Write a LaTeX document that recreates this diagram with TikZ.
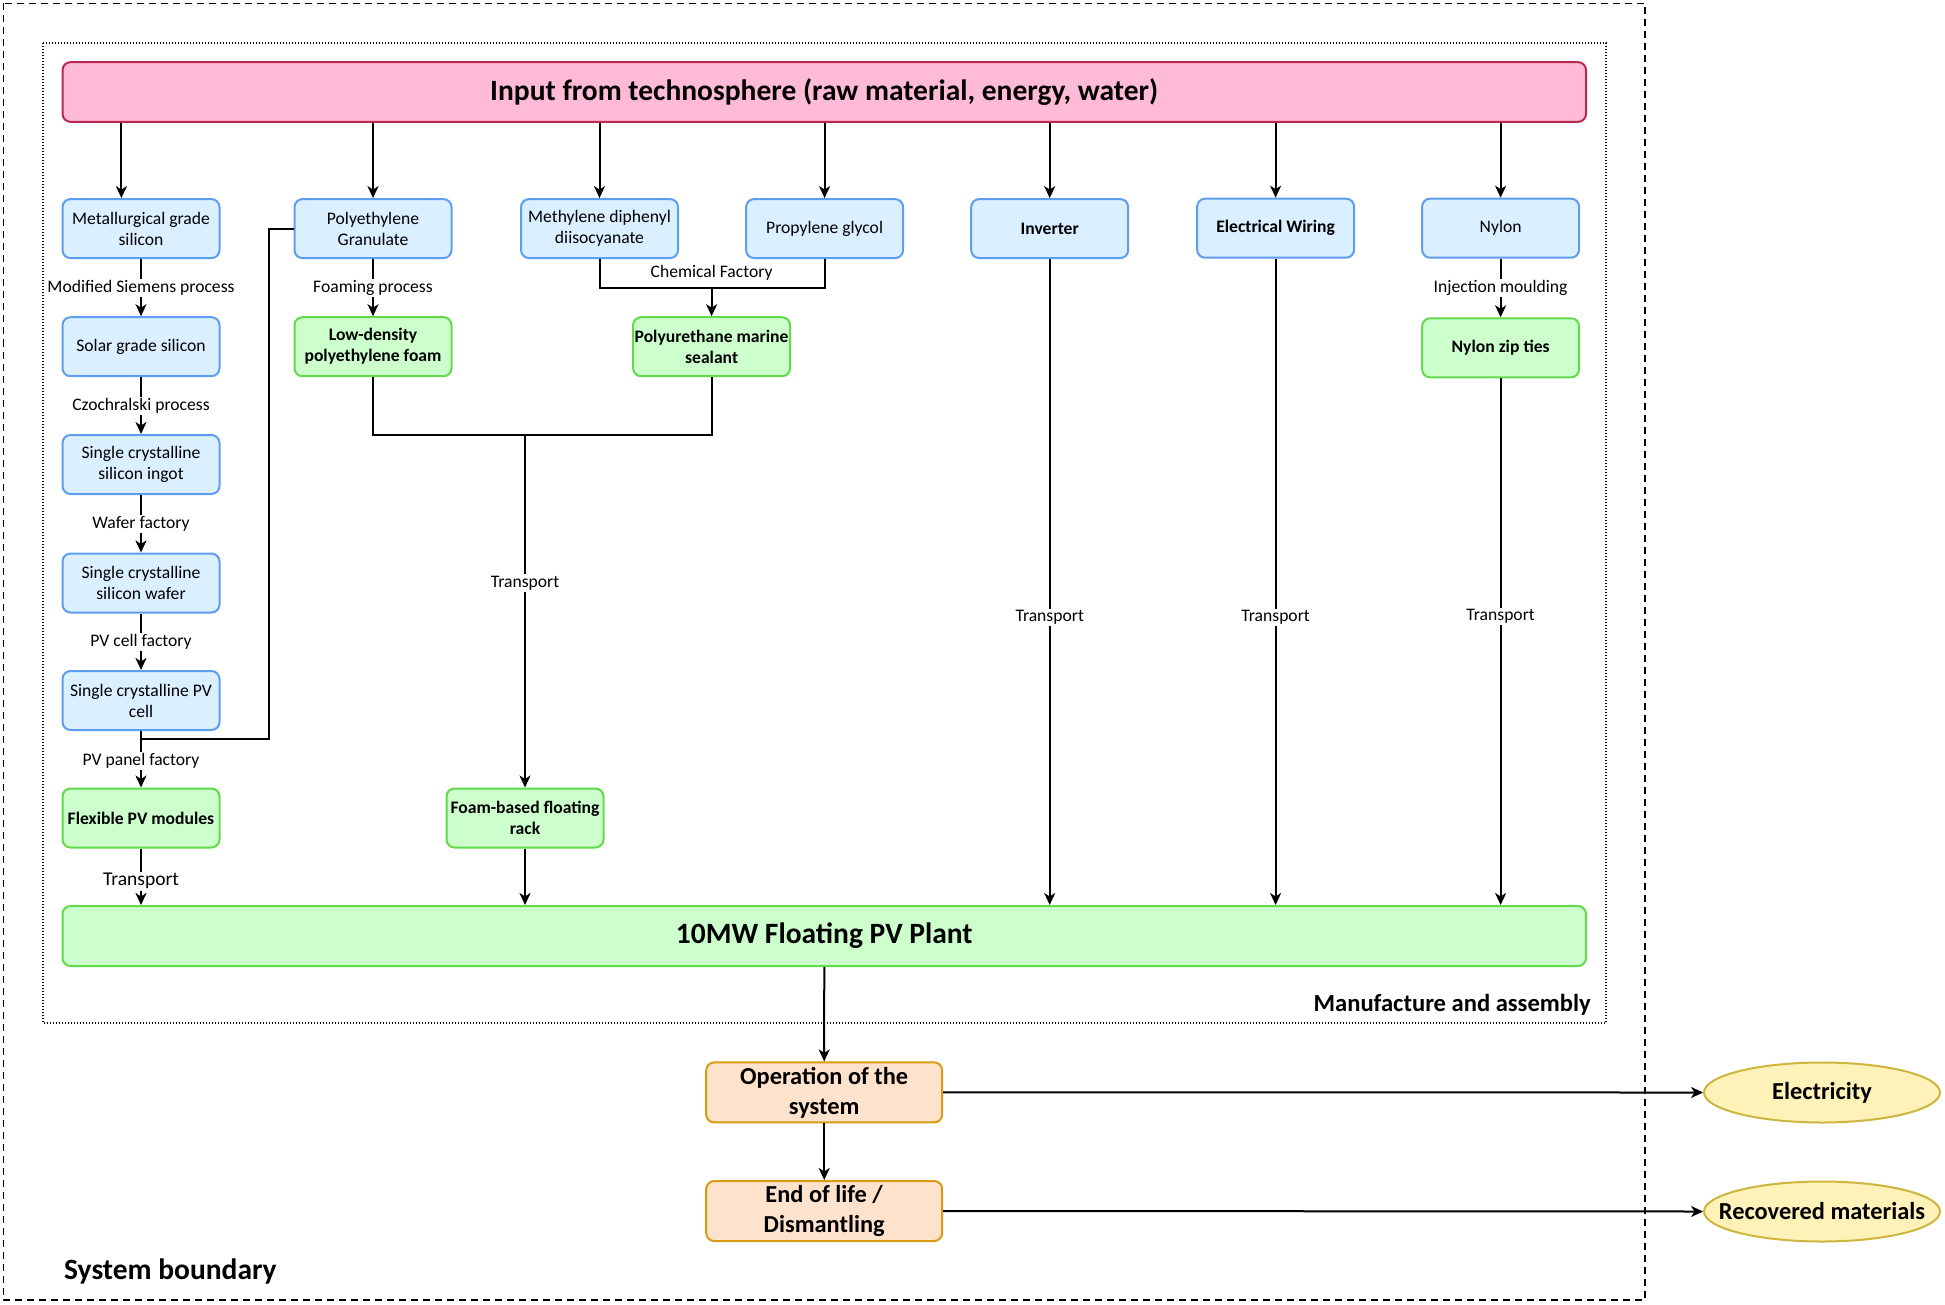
\documentclass[tikz,border=0pt]{standalone}
\usepackage{fontspec}
\setmainfont{Carlito}
\usetikzlibrary{arrows.meta,calc,shapes.geometric}
\definecolor{pinkF}{HTML}{FFBBD5}
\definecolor{pinkD}{HTML}{B8294F}
\definecolor{blueF}{HTML}{DAEFFF}
\definecolor{blueD}{HTML}{5E9EEF}
\definecolor{greenF}{HTML}{CCFFCC}
\definecolor{greenD}{HTML}{62DB4A}
\definecolor{orangeF}{HTML}{FFE2CC}
\definecolor{orangeD}{HTML}{D99B10}
\definecolor{yellowF}{HTML}{FFF2B8}
\definecolor{yellowD}{HTML}{CDB53E}
\begin{document}
\begin{tikzpicture}[x=1pt,y=-1pt,
  box/.style={draw, rounded corners=8pt, line width=2pt, minimum width=157pt, minimum height=59pt, align=center, inner sep=1pt, font=\fontsize{17.6}{21}\selectfont},
  bluebox/.style={box, draw=blueD, fill=blueF},
  bluebold/.style={bluebox, font=\bfseries\fontsize{17.6}{21}\selectfont},
  greenbox/.style={box, draw=greenD, fill=greenF, font=\bfseries\fontsize{17.6}{21}\selectfont},
  orangebox/.style={box, draw=orangeD, fill=orangeF, minimum width=236pt, minimum height=60pt, font=\bfseries\fontsize{24.4}{30}\selectfont},
  outell/.style={ellipse, draw=yellowD, fill=yellowF, line width=2pt, minimum width=236pt, minimum height=60pt, inner xsep=-40pt, inner ysep=0pt, font=\bfseries\fontsize{24.4}{28}\selectfont},
  conn/.style={line width=2pt, black},
  arr/.style={conn, -{Stealth[length=12pt,width=11pt,inset=3.5pt]}},
  lbl/.style={fill=white, inner sep=1.5pt, font=\fontsize{17.6}{20}\selectfont}
]
\useasboundingbox (0,0) rectangle (1945,1305);

% boundaries
\draw[line width=1.5pt, dash pattern=on 7pt off 5pt] (3.5,3.5) rectangle (1645,1300);
\draw[line width=1.5pt, dash pattern=on 1.4pt off 1.6pt] (43,43) rectangle (1606,1023);

% top input
\node[box, draw=pinkD, fill=pinkF, minimum width=1523.5pt, minimum height=59.7pt, font=\bfseries\fontsize{29.5}{34}\selectfont] (input) at (824.25,92) {Input from technosphere (raw material, energy, water)};

% column 1
\node[bluebox] (met) at (141,228.6) {Metallurgical grade\\silicon};
\node[bluebox] (sol) at (141,346.7) {Solar grade silicon};
\node[bluebox] (ing) at (141,464.5) {Single crystalline\\silicon ingot};
\node[bluebox] (waf) at (141,583) {Single crystalline\\silicon wafer};
\node[bluebox] (cell) at (141,700.5) {Single crystalline PV\\cell};
\node[greenbox] (flex) at (141,818) {Flexible PV modules};

% column 2
\node[bluebox] (poly) at (373,228.6) {Polyethylene\\Granulate};
\node[greenbox] (ldpe) at (373,346.7) {Low-density\\polyethylene foam};

% column 3/4
\node[bluebox] (mdi) at (599.5,228.6) {Methylene diphenyl\\diisocyanate};
\node[bluebox] (pg) at (824.6,228.6) {Propylene glycol};
\node[greenbox] (seal) at (711.6,346.7) {Polyurethane marine\\sealant};
\node[greenbox] (rack) at (525,818) {Foam-based floating\\rack};

% columns 5-7
\node[bluebold] (inv) at (1049.7,228.6) {Inverter};
\node[bluebold] (wir) at (1275.6,228.2) {Electrical Wiring};
\node[bluebox] (nyl) at (1500.6,228.2) {Nylon};
\node[greenbox] (zip) at (1500.6,347.8) {Nylon zip ties};

% plant and life cycle
\node[box, draw=greenD, fill=greenF, minimum width=1523.5pt, minimum height=60pt, font=\bfseries\fontsize{29.5}{34}\selectfont] (plant) at (824.25,936) {10MW Floating PV Plant};
\node[orangebox] (op) at (824.2,1092.4) {Operation of the\\system};
\node[orangebox] (eol) at (824.2,1211) {End of life /\\Dismantling};
\node[outell] (elec) at (1822,1092.5) {Electricity};
\node[outell] (rec) at (1822,1211.5) {Recovered materials};

% texts
\node[font=\bfseries\fontsize{24.6}{28}\selectfont, anchor=east, inner sep=0pt] (mfg) at (1591,1005) {Manufacture and assembly};
\node[font=\bfseries\fontsize{29.5}{33}\selectfont, anchor=west, inner sep=0pt] (sysb) at (64,1271) {System boundary};
\node[font=\fontsize{17.6}{20}\selectfont] (chem) at (711.6,273) {Chemical Factory};

% coordinates
\coordinate (m1) at (121.4,0);
\coordinate (bendx) at (269,0);
\coordinate (j1) at (141,739);
\coordinate (cf) at (711.6,287.7);
\coordinate (tj) at (525,435);

% input arrows
\draw[arr] (input.south -| m1) -- (met.north -| m1);
\draw[arr] (input.south -| poly.north) -- (poly.north);
\draw[arr] (input.south -| mdi.north) -- (mdi.north);
\draw[arr] (input.south -| pg.north) -- (pg.north);
\draw[arr] (input.south -| inv.north) -- (inv.north);
\draw[arr] (input.south -| wir.north) -- (wir.north);
\draw[arr] (input.south -| nyl.north) -- (nyl.north);

% column 1 chain
\draw[arr] (met.south) -- node[lbl]{Modified Siemens process} (sol.north);
\draw[arr] (sol.south) -- node[lbl]{Czochralski process} (ing.north);
\draw[arr] (ing.south) -- node[lbl]{Wafer factory} (waf.north);
\draw[arr] (waf.south) -- node[lbl]{PV cell factory} (cell.north);
\draw[conn] (poly.west) -- (poly.west -| bendx) |- (j1);
\draw[arr] (cell.south) -- node[lbl, pos=0.53]{PV panel factory} (flex.north);
\draw[arr] (flex.south) -- node[lbl, font=\fontsize{19.5}{22}\selectfont, pos=0.58]{Transport} (flex.south |- plant.north);

% column 2
\draw[arr] (poly.south) -- node[lbl]{Foaming process} (ldpe.north);

% chemical factory
\draw[conn] (mdi.south) |- (cf) -| (pg.south);
\draw[arr] (cf) -- (seal.north);

% rack
\draw[conn] (ldpe.south) |- (tj) -| (seal.south);
\draw[arr] (tj) -- node[lbl, pos=0.42]{Transport} (rack.north);
\draw[arr] (rack.south) -- (rack.south |- plant.north);

% other columns
\draw[arr] (inv.south) -- node[lbl, pos=0.555]{Transport} (inv.south |- plant.north);
\draw[arr] (wir.south) -- node[lbl, pos=0.555]{Transport} (wir.south |- plant.north);
\draw[arr] (nyl.south) -- node[lbl]{Injection moulding} (zip.north);
\draw[arr] (zip.south) -- node[lbl, pos=0.452]{Transport} (zip.south |- plant.north);

% life cycle
\draw[arr] (plant.south) -- (op.north);
\draw[arr] (op.south) -- (eol.north);
\draw[arr] (op.east) -- (elec.west);
\draw[arr] (eol.east) -- (rec.west);
\end{tikzpicture}
\end{document}
